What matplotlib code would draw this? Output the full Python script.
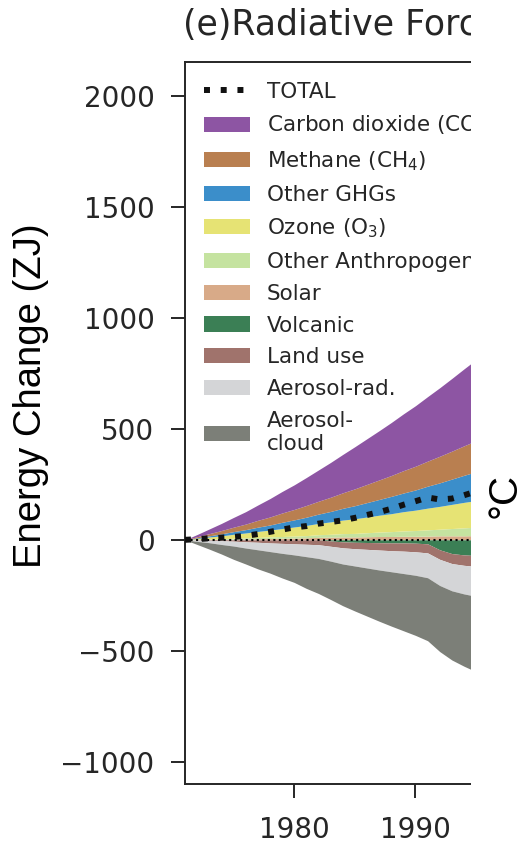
import numpy as np
import matplotlib.pyplot as plt
from matplotlib.patches import Rectangle

# cumulative energy change since 1971 (ZJ), one value per year
years = np.arange(1971, 1996)

co2 = [0, 10, 21, 32, 44, 56, 69, 83, 97, 111, 126, 141, 157, 173, 190, 206,
       222, 239, 256, 273, 291, 309, 328, 347, 366]
methane = [0, 5, 10, 15, 20, 25, 31, 36, 42, 47, 53, 58, 64, 70, 76, 82,
           88, 94, 101, 107, 113, 120, 126, 133, 140]
other_ghg = [0, 3, 5, 9, 12, 15, 19, 23, 28, 32, 37, 42, 47, 53, 59, 65,
             71, 78, 84, 91, 99, 106, 114, 122, 130]
ozone = [0, 4, 9, 13, 18, 22, 27, 31, 36, 41, 46, 51, 56, 61, 66, 71,
         76, 81, 87, 92, 98, 103, 109, 115, 120]
other_anthro = [0, 1, 2, 3, 4, 5, 6, 7, 8, 9, 10, 12, 13, 15, 16, 18,
                20, 22, 24, 26, 28, 30, 33, 36, 38]
solar = [0, 1, 2, 2, 3, 4, 5, 6, 7, 8, 9, 11, 12, 13, 13, 14,
         15, 15, 16, 16, 17, 18, 18, 18, 19]
volcanic = [0, 0, 0, 0, 0, 0, 0, 0, 0, 0, 0, 0, -5, -9, -11, -12,
            -13, -14, -14, -15, -18, -45, -62, -68, -71]
land_use = [0, -1, -2, -4, -6, -9, -11, -14, -16, -18, -20, -22, -24, -27, -29, -31,
            -33, -35, -37, -39, -41, -43, -45, -47, -49]
aer_rad = [0, -6, -11, -17, -22, -28, -34, -39, -45, -50, -56, -62, -67, -73, -78, -84,
           -90, -95, -101, -106, -112, -118, -123, -129, -135]
aer_cloud = [0, -14, -29, -43, -60, -72, -86, -97, -111, -124, -143, -158, -173, -188, -203, -217,
             -231, -245, -258, -271, -284, -298, -312, -326, -340]

# stacking order away from zero
positive = [
    ("Solar", solar, "#d8aa88"),
    ("Other Anthropogenic", other_anthro, "#c5e3a0"),
    ("Ozone (O$_3$)", ozone, "#e6e374"),
    ("Other GHGs", other_ghg, "#3b8eca"),
    ("Methane (CH$_4$)", methane, "#b97f50"),
    ("Carbon dioxide (CO$_2$)", co2, "#8d55a3"),
]
negative = [
    ("Volcanic", volcanic, "#3b7f55"),
    ("Land use", land_use, "#a0736c"),
    ("Aerosol-rad.", aer_rad, "#d4d5d7"),
    ("Aerosol-\ncloud", aer_cloud, "#7c7f78"),
]
legend_order = ["Carbon dioxide (CO$_2$)", "Methane (CH$_4$)", "Other GHGs",
                "Ozone (O$_3$)", "Other Anthropogenic", "Solar", "Volcanic",
                "Land use", "Aerosol-rad.", "Aerosol-\ncloud"]

ink = "#262626"
W, H = 528, 844
edge = 471  # right edge of the visible panel, px

fig = plt.figure(figsize=(W / 100, H / 100), dpi=100)
ax = fig.add_axes([185 / W, 60.3 / H, (edge - 185) / W, 721.2 / H])

handles = {}
for group in (positive, negative):
    base = np.zeros(len(years))
    for name, vals, col in group:
        top = base + np.array(vals)
        handles[name] = ax.fill_between(years, base, top, color=col, lw=0)
        base = top

total = np.sum([v for _, v, _ in positive + negative], axis=0)
ax.axhline(0, color="k", ls=":", lw=1.5, zorder=3)
tot_line, = ax.plot(years, total, color="#111111", lw=4.3, ls=(0, (1, 1.8)),
                    zorder=4)

ax.set_xlim(1971, 1971 + (edge - 185) / 12.13)
ax.set_ylim(-1100, 2153)
ax.set_xticks([1980, 1990])
ax.set_yticks(range(-1000, 2001, 500))
ax.tick_params(axis="both", labelsize=20, colors=ink, length=10, width=1.4)
ax.tick_params(axis="y", pad=12)
ax.tick_params(axis="x", pad=13)
for s in ax.spines.values():
    s.set_linewidth(1.4)
    s.set_color(ink)
ax.spines["right"].set_visible(False)

ax.legend([tot_line] + [handles[n] for n in legend_order],
          ["TOTAL"] + legend_order, loc="upper left", frameon=False,
          fontsize=15.5, handlelength=2.1, handleheight=0.7,
          handletextpad=0.8, labelspacing=0.55, labelcolor=ink,
          borderaxespad=0.5)

fig.text(183 / W, 1 - 35 / H, "(e)Radiative Forcing", fontsize=25,
         color=ink, ha="left", va="baseline")
fig.text(31 / W, 1 - 396 / H, "Energy Change (ZJ)", rotation=90,
         fontsize=27.5, family="Liberation Sans", ha="center", va="center")

# panel edge: everything right of here is blank
fig.add_artist(Rectangle((edge / W, 0), 1, 1, transform=fig.transFigure,
                         facecolor="white", edgecolor="none", zorder=10))
fig.text(505 / W, 1 - 495 / H, "°C", rotation=90, fontsize=29,
         family="Liberation Sans", ha="center", va="center", zorder=11)

fig.savefig("out.png", dpi=100)
